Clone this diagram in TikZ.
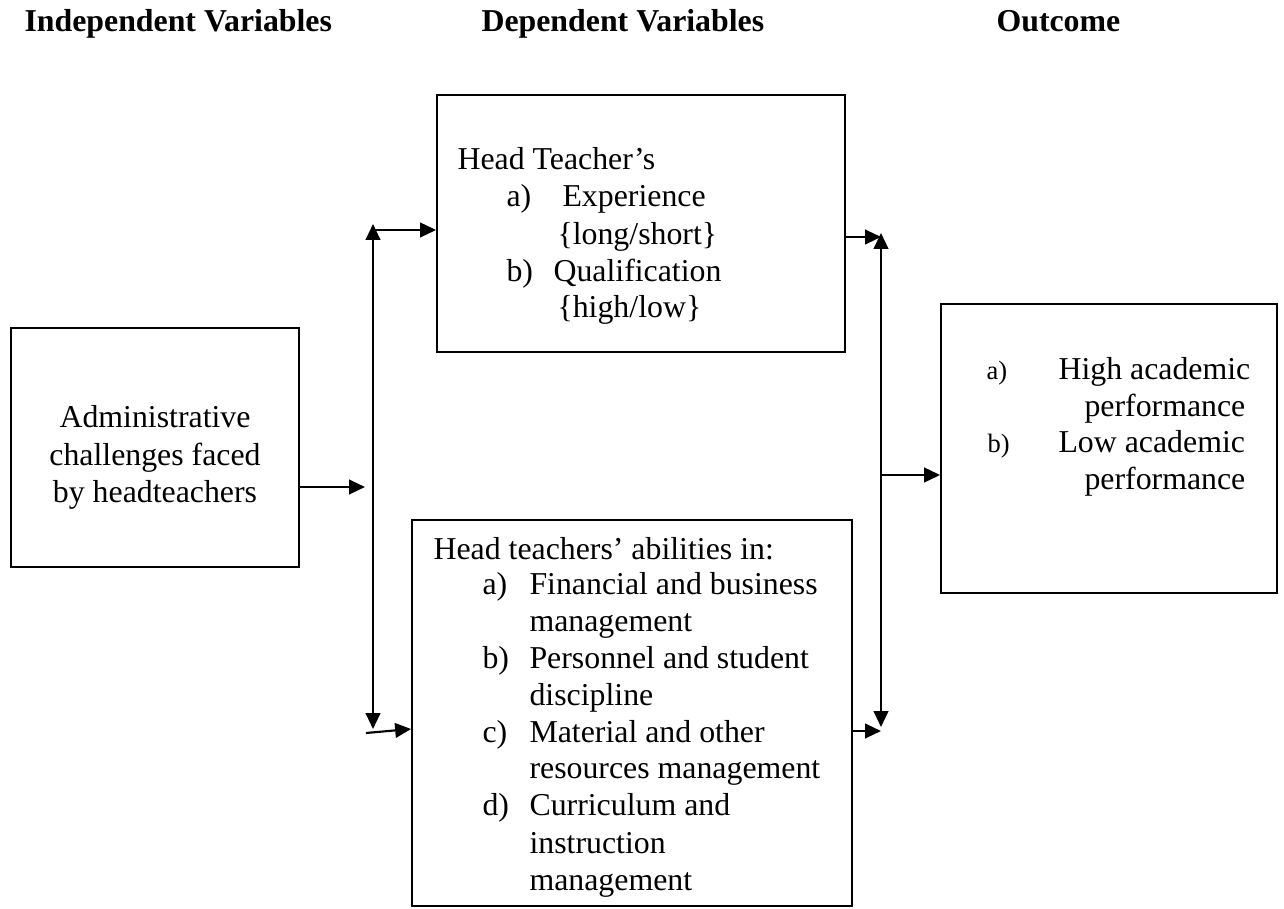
\documentclass[tikz,border=0pt]{standalone}
\usepackage{fontspec}
\setmainfont{Liberation Serif}
\usetikzlibrary{arrows.meta, fit}

\begin{document}
\begin{tikzpicture}[x=0.377pt, y=-0.377pt,
        box/.style={draw, line width=0.7pt, inner sep=0pt},
        arr/.style={line width=0.8pt, -{Triangle[length=6pt,width=5.5pt]}},
        dbl/.style={line width=0.8pt, {Triangle[length=6pt,width=5.5pt]}-{Triangle[length=6pt,width=5.5pt]}},
        txt/.style={anchor=base west, inner sep=0pt, font=\fontsize{12}{13.8}\selectfont},
        hdr/.style={anchor=base west, inner sep=0pt, font=\bfseries\fontsize{12}{13.8}\selectfont},
        sml/.style={anchor=base west, inner sep=0pt, font=\fontsize{10}{12}\selectfont}]
            \useasboundingbox (0,0) rectangle (1284,909);

            \node[hdr] (indep) at (24,32) {Independent Variables};
            \node[hdr] (dep) at (481,32) {Dependent Variables};
            \node[hdr] (outc) at (996,32) {Outcome};

            \node[box, fit={(11,328) (299,567)}] (lbox) {};
            \node[box, fit={(437,95) (845,352)}] (tbox) {};
            \node[box, fit={(412,520) (852,906)}] (bbox) {};
            \node[box, fit={(941,304) (1277,593)}] (rbox) {};

            \foreach \t/\y in {Administrative/428, challenges faced/466, by headteachers/503}{
                \node[txt, anchor=base] (adm\y) at (155,\y) {\t};
            }

            \node[txt] (thead) at (457,170) {Head Teacher’s};
            \node[txt] (ta) at (506,207) {a)};
            \node[txt] (texp) at (562,207) {Experience};
            \node[txt] (tlong) at (557,245) {\{long/short\}};
            \node[txt] (tb) at (506,282) {b)};
            \node[txt] (tqual) at (553,282) {Qualification};
            \node[txt] (thigh) at (557,318) {\{high/low\}};

            \node[txt] (bhead) at (433,560) {Head teachers’ abilities in:};
            \foreach \l/\y in {a/595, b/668, c/742, d/815}{
                \node[txt] (bl\l) at (482,\y) {\l)};
            }
            \foreach \t/\y in {Financial and business/595, management/632, Personnel and student/668,
                    discipline/705, Material and other/742, resources management/778,
                    Curriculum and/815, instruction/853, management/890}{
                \node[txt] (bt\y) at (529,\y) {\t};
            }

            \node[sml] (ra) at (986,380) {a)};
            \node[txt] (rhigh) at (1058,380) {High academic};
            \node[txt] (rperf1) at (1084,417) {performance};
            \node[sml] (rb) at (987,453) {b)};
            \node[txt] (rlow) at (1058,453) {Low academic};
            \node[txt] (rperf2) at (1084,490) {performance};

            \coordinate (lmid) at (365,487);
            \coordinate (ltop) at (373,224);
            \coordinate (lbot) at (373,729);
            \coordinate (lup) at (373,230);
            \coordinate (llow) at (366,733);
            \draw[arr] (lbox.east |- lmid) -- (lmid);
            \draw[dbl] (ltop) -- (lbot);
            \draw[arr] (lup) -- (tbox.west |- lup);
            \draw[arr] (llow) -- (bbox.west |- 0,729);

            \coordinate (rtop) at (881,233);
            \coordinate (rbot) at (881,727);
            \coordinate (rmid) at (881,475);
            \draw[dbl] (rtop) -- (rbot);
            \draw[arr] (tbox.east |- 0,237) -- (rtop |- 0,237);
            \draw[arr] (bbox.east |- 0,731) -- (rbot |- 0,731);
            \draw[arr] (rmid) -- (rbox.west |- rmid);
\end{tikzpicture}
\end{document}
